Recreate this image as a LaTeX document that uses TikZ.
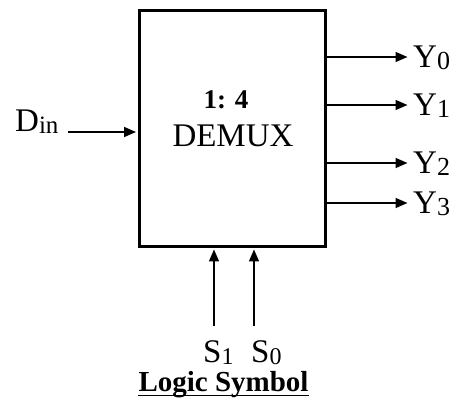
\documentclass[tikz,border=0pt]{standalone}
\usepackage{fontspec}
\setmainfont{Liberation Serif}
\usetikzlibrary{arrows.meta,positioning}
\newcommand\lowix[2]{\raisebox{-2pt}[0pt][0pt]{\fontsize{#1}{#1}\selectfont #2}}

\begin{document}
\begin{tikzpicture}[x=1pt,y=-1pt,
  sig/.style={line width=1.6pt,-{Triangle[length=12pt,width=10pt]},shorten >=1.5pt},
  lbl/.style={inner sep=0pt,font=\fontsize{33}{33}\selectfont}]
\useasboundingbox (0,0) rectangle (451,398);
% the demux block
\node[draw,line width=3pt,minimum width=186.5pt,minimum height=236pt] (box) at (232.25,128.5) {};
\node[inner sep=0pt,font=\bfseries\fontsize{27}{27}\selectfont] (ratio) at (226,100) {1: 4};
\node[lbl] (name) at (233,136) {DEMUX};

% data input
\node[lbl,anchor=base west] (din) at (15,132) {D\lowix{25}{in}};
\draw[sig] ([xshift=9pt]din.base east) -- (din.base -| box.west);

% outputs
\foreach \k/\yy in {0/57,1/105,2/163,3/203}{
  \node[lbl,anchor=west] (y\k) at (413,\yy) {Y\lowix{26}{\k}};
  \draw[sig] (y\k.west -| box.east) -- ([xshift=-4pt]y\k.west);
}

% select lines
\node[lbl,anchor=north west] (s1) at (203,340) {S\lowix{24}{1}};
\node[lbl,anchor=north west] (s0) at (251,340) {S\lowix{24}{0}};
\draw[sig] (s1.north west) ++(11pt,14pt) coordinate (s1a) -- (s1a |- box.south);
\draw[sig] (s0.north west) ++(3pt,14pt) coordinate (s0a) -- (s0a |- box.south);

% caption
\node[inner sep=0pt,anchor=base,font=\bfseries\fontsize{29}{29}\selectfont] (title) at (223.5,392) {Logic Symbol};
\draw[line width=1.5pt] ([yshift=-3.5pt]title.base west) -- ([yshift=-3.5pt]title.base east);
\end{tikzpicture}
\end{document}
